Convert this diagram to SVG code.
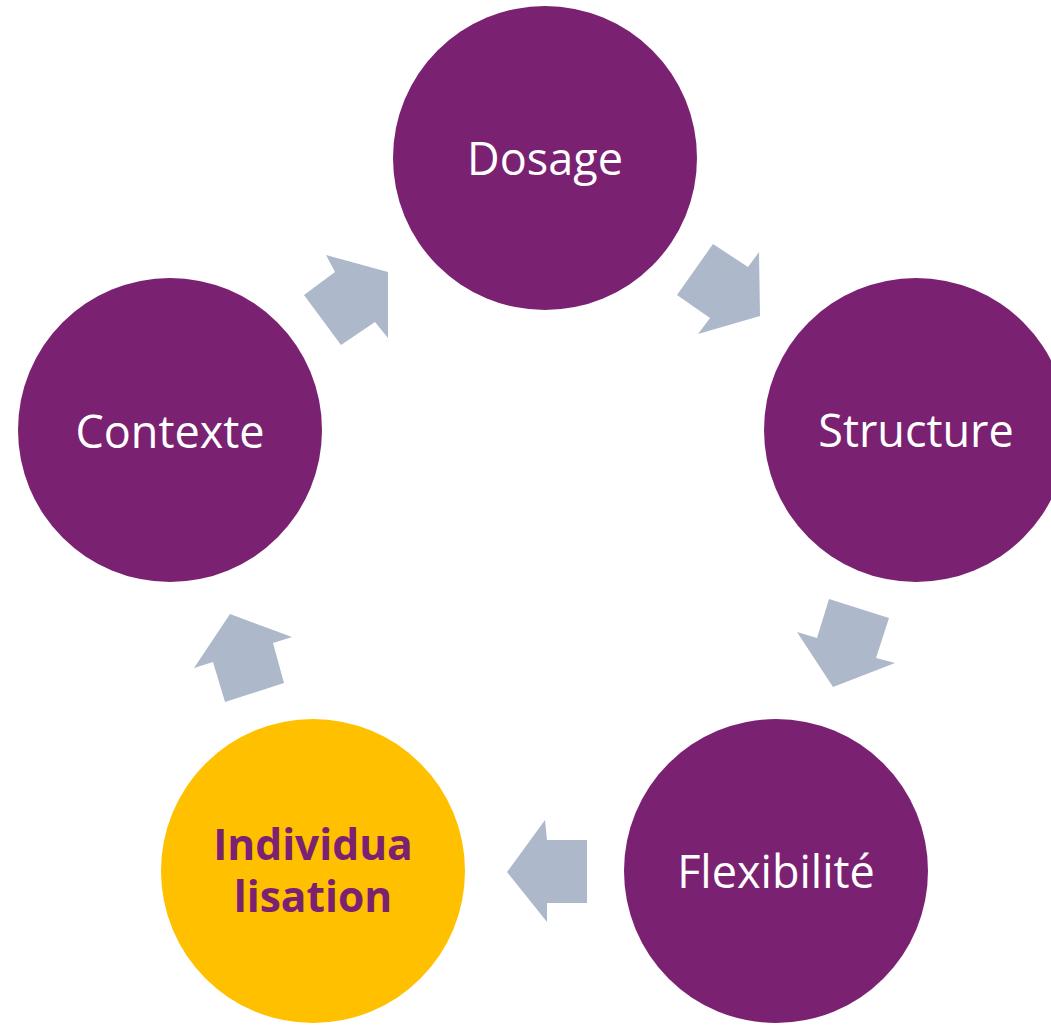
<svg xmlns="http://www.w3.org/2000/svg" width="1051" height="1025" viewBox="0 0 1051 1025">
<style>
.n{fill:#7B2171}
.y{fill:#FFC000}
.a{fill:#ADB9CA}
.t{font-family:"Open Sans","Liberation Sans",sans-serif;font-size:45px;fill:#FFFFFF;text-anchor:middle;dominant-baseline:central}
.b{font-family:"Open Sans","Liberation Sans",sans-serif;font-size:42.5px;font-weight:bold;fill:#7B2171;text-anchor:middle}
</style>
<rect width="1051" height="1025" fill="#FFFFFF"/>
<g id="connectors">
<polygon class="a" points="713,244 748,267 759,252 760,316 698,334 710,318 677,295"/>
<polygon class="a" points="829,599 889,618 876,658 895,663 833,687 797,632 817,638"/>
<polygon class="a" points="545,820 547,840 587,840 587,903 547,903 547,922 507,872"/>
<polygon class="a" points="230,614 292,637 273,643 284,683 225,702 213,662 194,668"/>
<polygon class="a" points="326,255 388,272 388,338 375,322 341,345 304,295 335,272"/>
</g>
<g id="dosage"><circle class="n" cx="545" cy="158" r="152"/><text class="t" x="545" y="157">Dosage</text></g>
<g id="structure"><circle class="n" cx="916" cy="430" r="152"/><text class="t" x="916" y="429">Structure</text></g>
<g id="flexibilite"><circle class="n" cx="776" cy="871" r="152"/><text class="t" x="776" y="870">Flexibilité</text></g>
<g id="individualisation"><circle class="y" cx="313" cy="871" r="152"/><text class="b" x="313" y="860">Individua</text><text class="b" x="313" y="912">lisation</text></g>
<g id="contexte"><circle class="n" cx="170" cy="430" r="152"/><text class="t" x="170" y="430">Contexte</text></g>
</svg>
